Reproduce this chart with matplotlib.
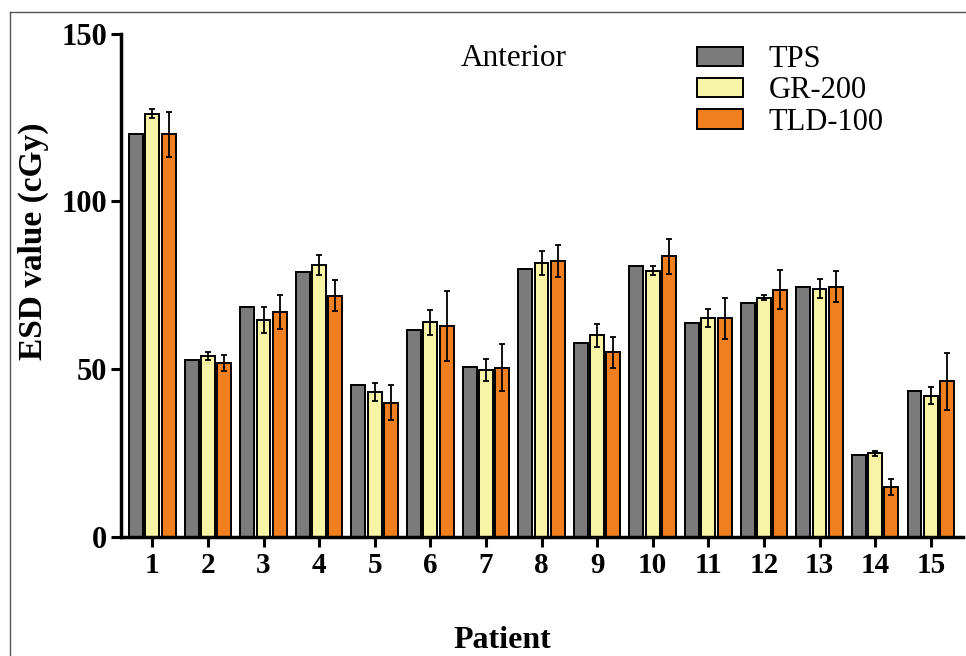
import matplotlib
matplotlib.use('Agg')
import matplotlib.pyplot as plt
import numpy as np
from matplotlib.lines import Line2D
from matplotlib.patches import Patch

plt.rcParams['font.family'] = ['Liberation Serif', 'DejaVu Serif']

# data
patients = ['1', '2', '3', '4', '5', '6', '7', '8', '9', '10', '11', '12', '13', '14', '15']
tps = [120.0, 52.8, 68.6, 79.0, 45.1, 61.7, 50.7, 79.7, 57.7, 80.7, 63.8, 69.6, 74.5, 24.3, 43.5]
gr200 = [126.1, 53.9, 64.6, 81.0, 43.2, 63.9, 49.7, 81.6, 60.1, 79.3, 65.2, 71.3, 73.9, 24.9, 42.0]
gr200_err = [1.3, 1.3, 4.0, 2.9, 2.6, 3.7, 3.4, 3.5, 3.4, 1.4, 2.6, 0.8, 2.8, 0.8, 2.5]
tld100 = [120.0, 51.8, 67.0, 71.9, 40.0, 62.9, 50.4, 82.3, 55.0, 83.6, 65.2, 73.6, 74.5, 14.8, 46.3]
tld100_err = [6.7, 2.3, 5.2, 4.6, 5.1, 10.4, 7.0, 4.8, 4.7, 5.3, 6.1, 5.8, 4.6, 2.4, 8.4]
series_names = ['TPS', 'GR-200', 'TLD-100']
colors = ['#7b7b7b', '#f8f4a6', '#f0801f']

W, H = 966, 656
fig = plt.figure(figsize=(W / 100, H / 100), dpi=100)
ax = fig.add_axes([121 / W, 1 - 536.7 / H, (963 - 121) / W, (536.7 - 33.7) / H])

x = np.arange(1, len(patients) + 1)
bw = 0.25
off = 0.293
err_kw = dict(ecolor='black', elinewidth=1.3, capsize=2.0, capthick=1.3)

ax.bar(x - off, tps, bw, color=colors[0], edgecolor='black', linewidth=1.4, zorder=2)
ax.bar(x, gr200, bw, color=colors[1], edgecolor='black', linewidth=1.4, zorder=2)
ax.errorbar(x, gr200, yerr=gr200_err, fmt='none', zorder=3, **err_kw)
ax.bar(x + off, tld100, bw, color=colors[2], edgecolor='black', linewidth=1.4, zorder=2)
ax.errorbar(x + off, tld100, yerr=tld100_err, fmt='none', zorder=3, **err_kw)

ax.set_xlim(0.437, 15.58)
ax.set_ylim(0, 150)
ax.set_yticks([0, 50, 100, 150])
ax.set_xticks(x)
ax.set_xticklabels(patients)

for s in ['top', 'right']:
    ax.spines[s].set_visible(False)
for s in ['left', 'bottom']:
    ax.spines[s].set_linewidth(2.5)

ax.tick_params(axis='both', direction='out', length=7, width=2.2, labelsize=21, pad=4)
ax.tick_params(axis='y', labelsize=22, pad=3)
for lab in ax.get_xticklabels() + ax.get_yticklabels():
    lab.set_fontweight('bold')

fig.text(33 / W, 1 - 241 / H, 'ESD value (cGy)', rotation=90, ha='center', va='center',
         fontsize=24, fontweight='bold')
fig.text(502 / W, 1 - 648 / H, 'Patient', ha='center', va='baseline',
         fontsize=23, fontweight='bold')
fig.text(461 / W, 1 - 59 / H, 'Anterior', ha='left', va='center', fontsize=22.5)

handles = [Patch(facecolor=c, edgecolor='black', linewidth=1.4) for c in colors]
ax.legend(handles, series_names, loc='upper left', bbox_to_anchor=(697 / W, 1 - 45 / H),
          bbox_transform=fig.transFigure, frameon=False, fontsize=22, borderpad=0,
          borderaxespad=0, handlelength=1.5, handleheight=0.6, handletextpad=0.85,
          labelspacing=0.08)

# thin frame round the picture
fig.add_artist(Line2D([10 / W, 10 / W], [0, 1 - 12 / H], transform=fig.transFigure,
                      color='#555555', linewidth=1))
fig.add_artist(Line2D([10 / W, 1], [1 - 12 / H, 1 - 12 / H], transform=fig.transFigure,
                      color='#555555', linewidth=1))

fig.savefig('out.png', dpi=100)
